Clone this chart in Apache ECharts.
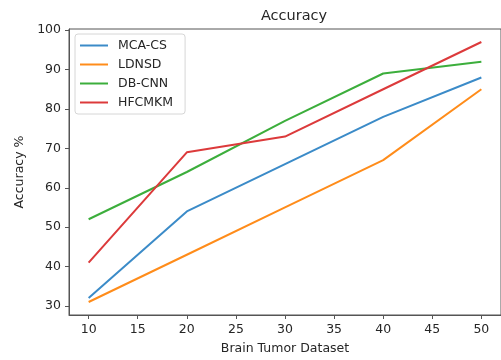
<!DOCTYPE html>
<html>
<head>
<meta charset="utf-8">
<script src="https://cdn.jsdelivr.net/npm/echarts@6/dist/echarts.min.js"></script>
<style>
  html, body { margin: 0; padding: 0; background: #fff; }
  #chart { width: 501px; height: 360px; }
</style>
</head>
<body>
<div id="chart"></div>
<script>
// dataset sizes on the x axis
const datasetSizes = [10, 20, 30, 40, 50];

// accuracy per method (%)
const mcaCs = [32, 54, 66, 78, 88];
const ldnsd = [31, 43, 55, 67, 85];
const dbCnn = [52, 64, 77, 89, 92];
const hfcmkm = [41, 69, 73, 85, 97];

// tick labels
const xTicks = [10, 15, 20, 25, 30, 35, 40, 45, 50];
const yTicks = [30, 40, 50, 60, 70, 80, 90, 100];

const font = 'DejaVu Sans';
const textColor = '#262626';
const axisColor = '#555';

const pairs = (ys) => datasetSizes.map((x, i) => [x, ys[i]]);

const makeLine = (name, ys, color) => ({
  name,
  type: 'line',
  data: pairs(ys),
  symbol: 'none',
  lineStyle: { width: 2, color },
  itemStyle: { color },
});

const chart = echarts.init(document.getElementById('chart'));
chart.setOption({
  animation: false,
  backgroundColor: '#fff',
  textStyle: { fontFamily: font },
  title: {
    text: 'Accuracy',
    left: 289,
    textAlign: 'center',
    top: 4,
    textStyle: { fontFamily: font, fontSize: 14.5, fontWeight: 'normal', color: textColor },
  },
  grid: {
    left: 69,
    right: -10,
    top: 29,
    bottom: 44,
    show: true,
    borderColor: axisColor,
    borderWidth: 1,
  },
  legend: {
    orient: 'vertical',
    left: 75,
    top: 34,
    padding: [5, 12, 5, 4],
    itemWidth: 28,
    itemHeight: 14,
    itemGap: 6,
    itemStyle: { opacity: 0 },
    backgroundColor: 'rgba(255,255,255,0.8)',
    borderColor: '#d6d6d6',
    borderWidth: 1,
    borderRadius: 3,
    textStyle: { fontFamily: font, fontSize: 12.5, color: textColor, padding: [0, 0, 0, 5] },
  },
  xAxis: {
    type: 'value',
    min: 8,
    max: 52,
    name: 'Brain Tumor Dataset',
    nameLocation: 'middle',
    nameGap: 27,
    nameTextStyle: { fontFamily: font, fontSize: 12.5, color: textColor },
    splitLine: { show: false },
    axisLine: { show: true, lineStyle: { color: axisColor } },
    axisTick: { show: true, length: 4, customValues: xTicks, lineStyle: { color: axisColor } },
    axisLabel: { customValues: xTicks, margin: 8, fontFamily: font, fontSize: 12.5, color: textColor },
  },
  yAxis: {
    type: 'value',
    min: 27.7,
    max: 100.3,
    name: 'Accuracy %',
    nameLocation: 'middle',
    nameGap: 43,
    nameTextStyle: { fontFamily: font, fontSize: 12.5, color: textColor },
    splitLine: { show: false },
    axisLine: { show: true, lineStyle: { color: axisColor } },
    axisTick: { show: true, length: 4, customValues: yTicks, lineStyle: { color: axisColor } },
    axisLabel: { customValues: yTicks, margin: 8, fontFamily: font, fontSize: 12.5, color: textColor },
  },
  series: [
    makeLine('MCA-CS', mcaCs, '#3b8bc8'),
    makeLine('LDNSD', ldnsd, '#ff8c1a'),
    makeLine('DB-CNN', dbCnn, '#3cae3c'),
    makeLine('HFCMKM', hfcmkm, '#dc3a3b'),
  ],
});
</script>
</body>
</html>
